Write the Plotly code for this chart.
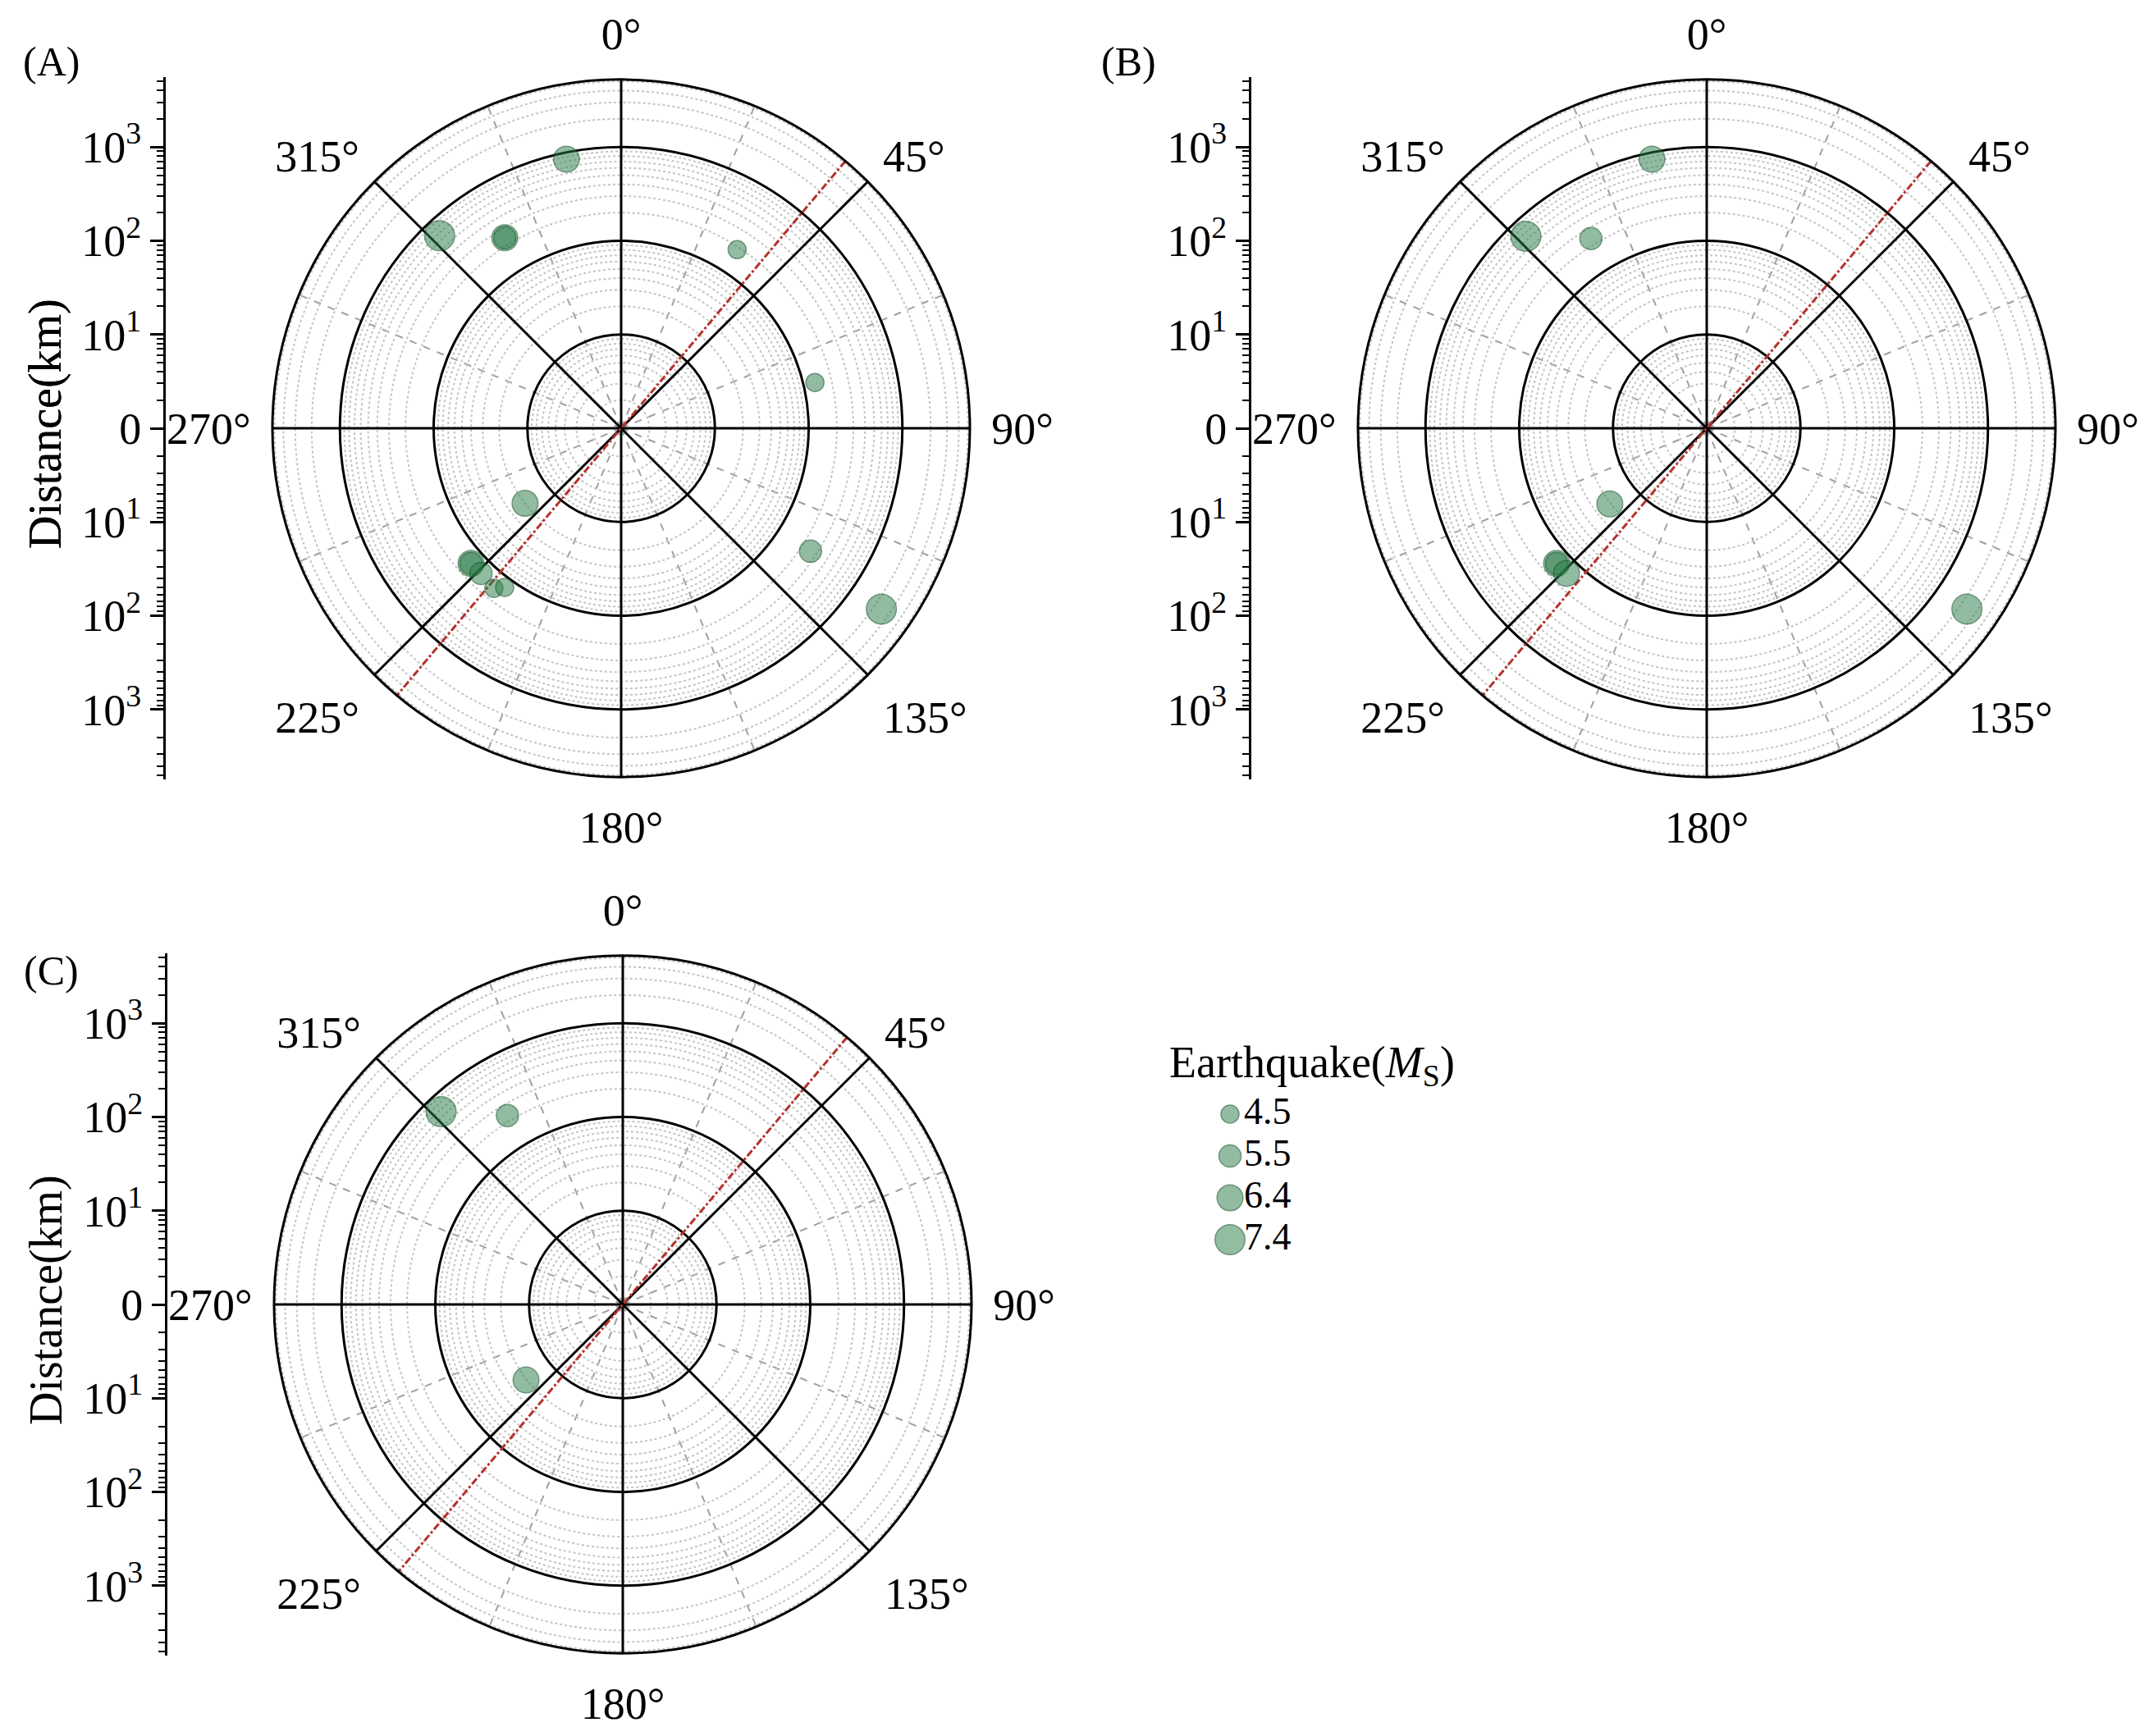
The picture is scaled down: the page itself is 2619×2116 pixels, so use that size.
import math
import plotly.graph_objects as go

# ---- data: azimuth (deg), epicentral distance (km), magnitude Ms ----
az_a = [348.5, 316.7, 328.6, 328.6, 33.0, 76.7, 232.0, 228.0, 228.0, 224.0, 218.5, 216.2, 123.0, 124.8]
dist_a = [850, 665, 241, 241, 187, 133, 20, 143, 143, 142, 152, 127, 256, 2400]
mag_a = [6.4, 7.4, 6.4, 5.5, 4.5, 4.5, 6.4, 6.4, 5.5, 5.5, 4.5, 4.5, 5.5, 7.4]

az_b = [348.5, 316.7, 328.6, 232.0, 228.0, 228.0, 224.0, 124.8]
dist_b = [850, 650, 235, 20.5, 143, 143, 142, 2400]
mag_b = [6.4, 7.4, 5.5, 6.4, 6.4, 5.5, 6.4, 7.4]

az_c = [316.7, 328.6, 232.0]
dist_c = [670, 230, 20.4]
mag_c = [7.4, 5.5, 6.4]

strike = [40, 40, 40]          # fault strike drawn as red dash-dot line
panel_names = ["(A)", "(B)", "(C)"]

ang_ticks = [0, 45, 90, 135, 180, 225, 270, 315]
ang_labels = ["0°", "45°", "90°", "135°", "180°", "225°", "270°", "315°"]
ang_minor = [22.5, 67.5, 112.5, 157.5, 202.5, 247.5, 292.5, 337.5]
ring_major = [10, 100, 1000]
legend_ms = [4.5, 5.5, 6.4, 7.4]
dist_ticks = [-3, -2, -1, 0, 1, 2, 3]
dist_labels = ["10<sup>3</sup>", "10<sup>2</sup>", "10<sup>1</sup>", "0",
               "10<sup>1</sup>", "10<sup>2</sup>", "10<sup>3</sup>"]

# ---- layout constants (pixels of the page) ----
W, H, OFF = 2600, 2100, 8
R = 425                 # polar radius
LOGMAX = 3.72           # log10 of outer ring
EXT = 3.75              # extent of the side distance axis (decades)
centers = [(757, 522), (2080, 522), (759, 1590)]
axis_x = [202, 1525, 204]
SERIF = "Liberation Serif, Times New Roman, serif"
FILL = "rgba(40,125,70,0.72)"
EDGE = "rgba(25,85,45,0.85)"
RED = "rgb(180,50,45)"


def fx(px):
    return (px - OFF) / W


def fy(py):
    return 1 - (py - OFF) / H


def msize(m):
    return 22 + (m - 4.5) * 5


minor_r = [k * 10 ** d for d in range(4) for k in range(2, 10) if k * 10 ** d < 10 ** LOGMAX]
minor_y = []
for d in range(4):
    for k in range(2, 10):
        v = d + math.log10(k)
        if v < EXT:
            minor_y += [v, -v]

fig = go.Figure()
panels = [(az_a, dist_a, mag_a), (az_b, dist_b, mag_b), (az_c, dist_c, mag_c)]

for i, (az, dist, mag) in enumerate(panels):
    cx, cy = centers[i]
    dom = dict(x=[fx(cx - R), fx(cx + R)], y=[fy(cy + R), fy(cy - R)])
    p_minor = "polar" if i == 0 else f"polar{i + 1}"
    p_major = f"polar{i + 4}"

    fig.update_layout({
        p_minor: dict(
            domain=dom, bgcolor="white",
            radialaxis=dict(type="log", range=[0, LOGMAX], tickvals=minor_r,
                            showticklabels=False, ticks="", showline=False,
                            gridcolor="#c4c4c4", griddash="dot", gridwidth=1.5),
            angularaxis=dict(direction="clockwise", rotation=90, tickvals=ang_minor,
                             showticklabels=False, ticks="", showline=False,
                             gridcolor="#a0a0a0", griddash="dash", gridwidth=2.2)),
        p_major: dict(
            domain=dom, bgcolor="rgba(0,0,0,0)",
            radialaxis=dict(type="log", range=[0, LOGMAX], tickvals=ring_major,
                            showticklabels=False, ticks="", showline=False,
                            gridcolor="black", gridwidth=2.6),
            angularaxis=dict(direction="clockwise", rotation=90, tickvals=ang_ticks,
                             ticktext=ang_labels, ticks="outside", ticklen=14,
                             tickcolor="rgba(0,0,0,0)", showline=True, linecolor="black",
                             linewidth=3, gridcolor="black", gridwidth=2.6,
                             tickfont=dict(size=54, family=SERIF, color="black"))),
    })

    # empty trace so the minor-grid polar gets drawn underneath
    fig.add_trace(go.Scatterpolar(r=[], theta=[], subplot=p_minor, showlegend=False))

    # strike line through the centre
    s = strike[i]
    fig.add_trace(go.Scatterpolar(
        r=[10 ** LOGMAX, 1, 10 ** LOGMAX], theta=[s, s, s + 180], mode="lines",
        line=dict(color=RED, dash="dashdot", width=3),
        subplot=p_major, showlegend=False, hoverinfo="skip"))

    fig.add_trace(go.Scatterpolar(
        r=dist, theta=az, mode="markers",
        marker=dict(size=[msize(m) for m in mag], color=FILL, line=dict(color=EDGE, width=1.5)),
        subplot=p_major, showlegend=False))

    # side distance axis
    xid = "x" if i == 0 else f"x{i + 1}"
    yid = "y" if i == 0 else f"y{i + 1}"
    ext = EXT * R / LOGMAX
    fig.update_layout({
        ("xaxis" if i == 0 else f"xaxis{i + 1}"): dict(
            domain=[fx(axis_x[i]), fx(axis_x[i] + 20)], anchor=yid, range=[0, 1], visible=False),
        ("yaxis" if i == 0 else f"yaxis{i + 1}"): dict(
            domain=[fy(cy + ext), fy(cy - ext)], anchor=xid, range=[-EXT, EXT],
            tickvals=dist_ticks, ticktext=dist_labels, ticks="outside", ticklen=16,
            tickwidth=3, tickcolor="black", showline=True, linewidth=3, linecolor="black",
            showgrid=False, zeroline=False,
            tickfont=dict(size=54, family=SERIF, color="black"),
            minor=dict(tickvals=minor_y, ticks="outside", ticklen=8, tickwidth=2,
                       tickcolor="black", showgrid=False)),
    })
    fig.add_trace(go.Scatter(x=[], y=[], xaxis=xid, yaxis=yid, showlegend=False))

    fig.add_annotation(text="Distance(km)", textangle=-90, x=fx(56), y=fy(cy - 5),
                       xref="paper", yref="paper", xanchor="center", yanchor="middle",
                       showarrow=False, font=dict(size=56, family=SERIF, color="black"))

# panel labels
label_pos = [(62, 75), (1375, 75), (62, 1183)]
for name, (lx, ly) in zip(panel_names, label_pos):
    fig.add_annotation(text=name, x=fx(lx), y=fy(ly), xref="paper", yref="paper",
                       xanchor="center", yanchor="middle", showarrow=False,
                       font=dict(size=50, family=SERIF, color="black"))

# magnitude legend drawn as a small scatter panel
fig.update_layout(
    xaxis4=dict(domain=[fx(1480), fx(1720)], anchor="y4", range=[0, 240], visible=False),
    yaxis4=dict(domain=[fy(1536.5), fy(1332.5)], anchor="x4", type="category",
                categoryorder="array", categoryarray=[str(m) for m in legend_ms],
                range=[3.5, -0.5], visible=False),
)
fig.add_trace(go.Scatter(
    x=[19] * len(legend_ms), y=[str(m) for m in legend_ms], mode="markers",
    marker=dict(size=[msize(m) for m in legend_ms], color=FILL, line=dict(color=EDGE, width=1.5)),
    xaxis="x4", yaxis="y4", showlegend=False))
fig.add_trace(go.Scatter(
    x=[36] * len(legend_ms), y=[str(m) for m in legend_ms], mode="text",
    text=[str(m) for m in legend_ms], textposition="middle right",
    textfont=dict(size=46, family=SERIF, color="black"),
    xaxis="x4", yaxis="y4", showlegend=False))
fig.add_annotation(text="Earthquake(<i>M</i><sub>S</sub>)", x=fx(1423), y=fy(1298),
                   xref="paper", yref="paper", xanchor="left", yanchor="middle",
                   showarrow=False, font=dict(size=54, family=SERIF, color="black"))

fig.update_layout(width=W, height=H, margin=dict(l=0, r=0, t=0, b=0),
                  paper_bgcolor="white", plot_bgcolor="rgba(0,0,0,0)", showlegend=False)

fig.write_html("out.html")
